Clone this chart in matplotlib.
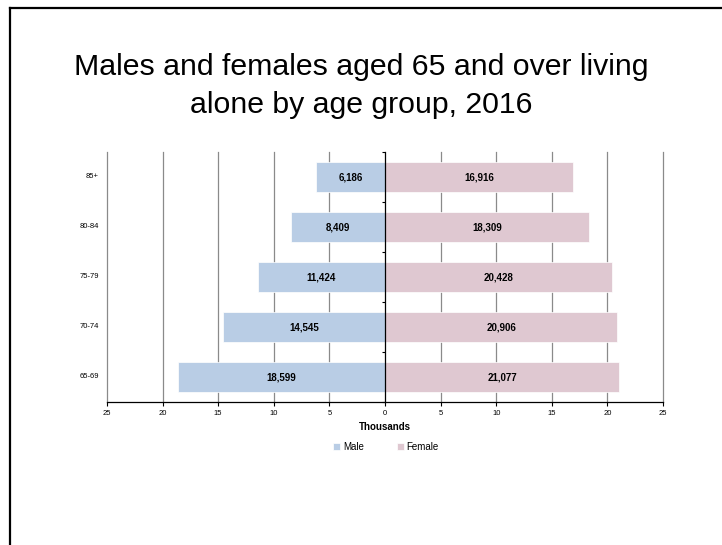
import matplotlib.pyplot as plt
from matplotlib.lines import Line2D
import numpy as np

plt.rcParams['font.family'] = ['Liberation Sans', 'DejaVu Sans']

age_groups = ["65-69", "70-74", "75-79", "80-84", "85+"]
male = [18599, 14545, 11424, 8409, 6186]
female = [21077, 20906, 20428, 18309, 16916]

male_color = "#B9CDE5"
female_color = "#DFC8D1"

fig = plt.figure(figsize=(7.22, 5.45), dpi=100)

# border lines along top and left edges
fig.add_artist(Line2D([9.5 / 722, 1.0], [1 - 8 / 545, 1 - 8 / 545], color="black", lw=1.6))
fig.add_artist(Line2D([9.5 / 722, 9.5 / 722], [0, 1 - 8 / 545], color="black", lw=1.6))

fig.text(0.5, 1 - 86 / 545, "Males and females aged 65 and over living\nalone by age group, 2016",
         ha="center", va="center", fontsize=21.8, linespacing=1.45)

ax = fig.add_axes([107 / 722, 1 - 402 / 545, 556 / 722, 250 / 545])

y = np.arange(len(age_groups))
m = np.array(male) / 1000
f = np.array(female) / 1000

ax.barh(y, -m, height=0.6, color=male_color, edgecolor="white", linewidth=0.5, label="Male", zorder=2)
ax.barh(y, f, height=0.6, color=female_color, edgecolor="white", linewidth=0.5, label="Female", zorder=2)

for yi, mv, fv in zip(y, male, female):
    ax.text(-mv / 2000, yi, f"{mv:,}", ha="center", va="center", fontsize=7, fontweight="bold", zorder=3)
    ax.text(fv / 2000, yi, f"{fv:,}", ha="center", va="center", fontsize=7, fontweight="bold", zorder=3)

ax.set_xlim(-25, 25)
ax.set_ylim(-0.5, len(age_groups) - 0.5)

xt = np.arange(-25, 26, 5)
ax.set_xticks(xt)
ax.set_xticklabels([str(abs(v)) for v in xt], fontsize=5.5)
ax.tick_params(axis="x", length=3, width=0.8, pad=3, color="black")
for v in xt:
    if v != 0:
        ax.axvline(v, color="#8A8A8A", lw=0.9, zorder=0.5, clip_on=False)

# vertical axis sits at zero with category separator ticks
ax.spines["left"].set_position(("data", 0))
ax.spines["left"].set_zorder(4)
ax.spines["left"].set_linewidth(0.9)
ax.spines["right"].set_visible(False)
ax.spines["top"].set_visible(False)
ax.spines["bottom"].set_linewidth(0.9)
ax.set_yticks(np.arange(len(age_groups) + 1) - 0.5)
ax.set_yticklabels([])
ax.tick_params(axis="y", length=2.5, width=0.8, direction="out")

# category labels sit at the left edge of the plot
for yi, label in zip(y, age_groups):
    ax.text(-8 / 556, yi, label, transform=ax.get_yaxis_transform(), ha="right", va="center", fontsize=5.5)

ax.set_xlabel("Thousands", fontsize=7, fontweight="bold", labelpad=3)

ax.legend(loc="center", bbox_to_anchor=(386 / 722, 1 - 447 / 545), bbox_transform=fig.transFigure,
          ncol=2, frameon=False, fontsize=7, handlelength=0.7, handleheight=0.7,
          handletextpad=0.3, columnspacing=3.4)

fig.savefig("out.png", dpi=100)
